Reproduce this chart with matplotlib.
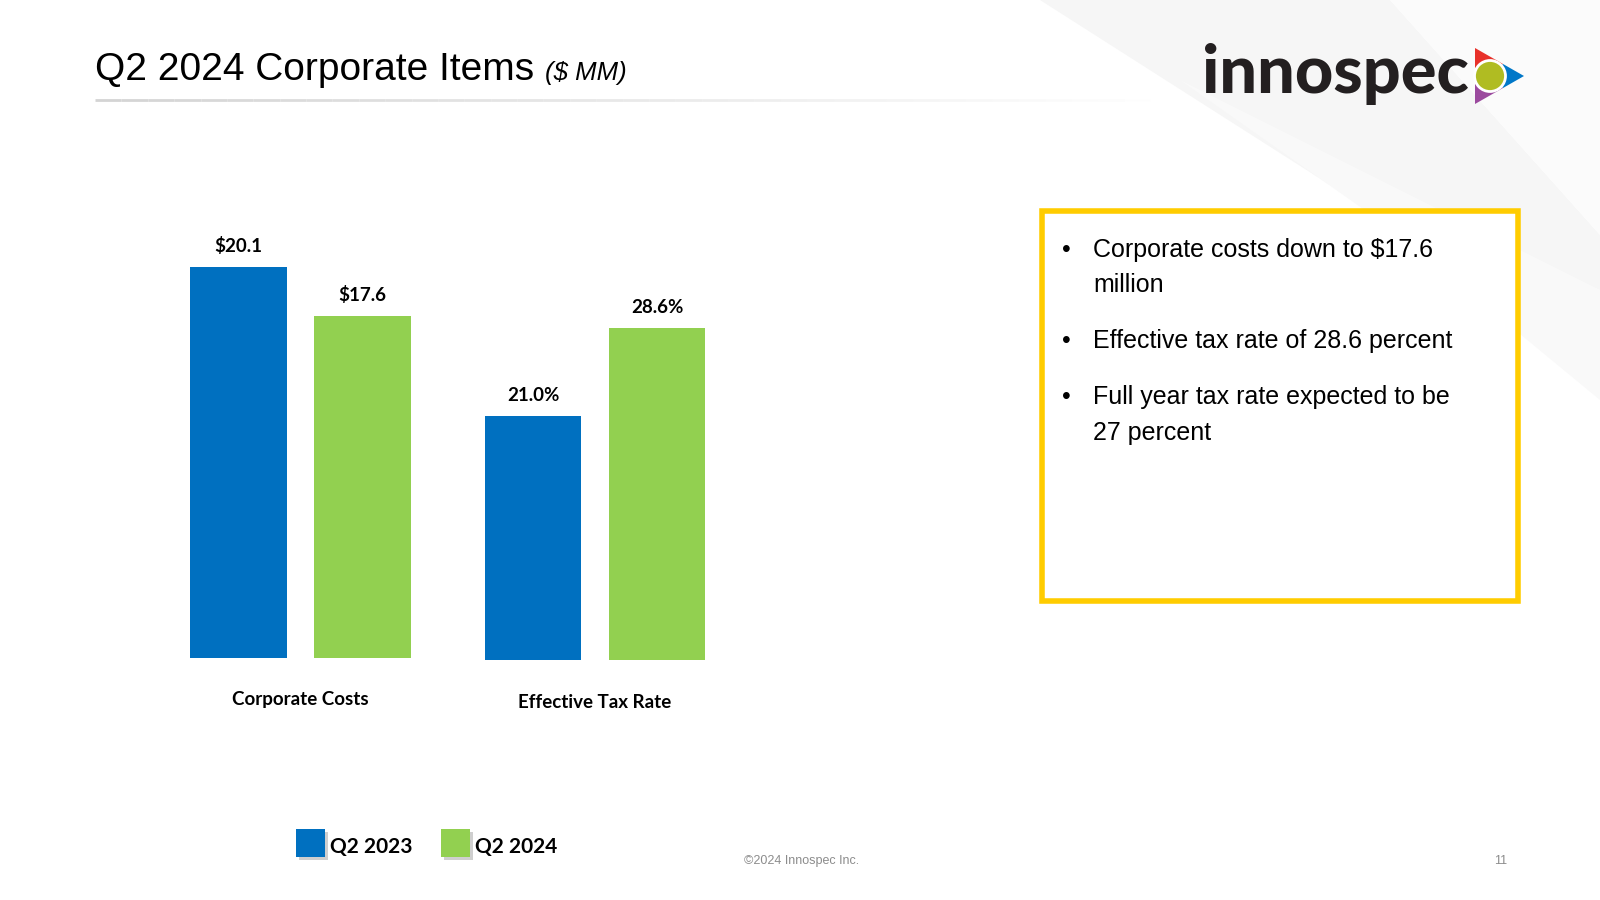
import matplotlib
matplotlib.use('Agg')
import matplotlib.pyplot as plt
from matplotlib.patches import Polygon, Circle, Rectangle

# Data
groups = ['Corporate Costs', 'Effective Tax Rate']
series = ['Q2 2023', 'Q2 2024']
corp_costs = [20.1, 17.6]
tax_rate = [21.0, 28.6]
corp_labels = ['$20.1', '$17.6']
tax_labels = ['21.0%', '28.6%']
bullets = [
    ['Corporate costs down to $17.6', 'million'],
    ['Effective tax rate of 28.6 percent'],
    ['Full year tax rate expected to be', '27 percent'],
]

blue = '#0070C0'
green = '#92D050'
colors = [blue, green]

narrow = ['Liberation Sans', 'DejaVu Sans']
label_font = ['Lato', 'DejaVu Sans']

W, H = 1600, 900
fig = plt.figure(figsize=(16, 9), dpi=100)
fig.patch.set_facecolor('white')


def fx(x):
    return x / W


def fy(y):
    return 1 - y / H


# faint grey shapes in the top right corner
bg = fig.add_axes([0, 0, 1, 1], zorder=-5)
bg.set_xlim(0, W)
bg.set_ylim(H, 0)
bg.axis('off')
bg.add_patch(Polygon([(1040, 0), (1390, 0), (1600, 235), (1600, 290), (1330, 185)],
                     closed=True, color='#f6f6f6', lw=0))
bg.add_patch(Polygon([(1180, 80), (1600, 290), (1600, 400), (1400, 235)],
                     closed=True, color='#f9f9f9', lw=0))
bg.add_patch(Polygon([(1390, 0), (1600, 0), (1600, 235)],
                     closed=True, color='#fbfbfb', lw=0))

# title underline fading to the right
n = 40
for i in range(n):
    x0 = 95 + i * (1150 - 95) / n
    x1 = 95 + (i + 1) * (1150 - 95) / n
    bg.plot([x0, x1], [100, 100], color='#d4d4d4', lw=2,
            alpha=max(0.0, 1 - i / n), solid_capstyle='butt')

# title
title = fig.text(fx(95), fy(80), 'Q2 2024 Corporate Items', fontsize=28, family=narrow,
                 va='baseline', ha='left', color='black')
fig.canvas.draw()
t_end = title.get_window_extent().x1
fig.text((t_end + 11) / W, fy(80), '($ MM)', fontsize=18.5, family=narrow, style='italic',
         va='baseline', ha='left', color='black')

# logo
logo = fig.text(fx(1202), fy(93), 'innospec', fontsize=46, family=label_font,
                weight='black', color='#231F20', va='baseline', ha='left')
fig.canvas.draw()
ext = logo.get_window_extent()
logo.set_fontsize(46 * 267 / ext.width)
T, B, R = (1475, 48), (1475, 104), (1524, 76)
C, L = (1490, 76), (1475, 76)
P1, P2 = (1503, 64), (1503, 88)
bg.add_patch(Polygon([T, P1, C, L], closed=True, color='#E8312A', lw=0))
bg.add_patch(Polygon([P1, R, P2, C], closed=True, color='#0077C8', lw=0))
bg.add_patch(Polygon([L, C, P2, B], closed=True, color='#9B4A9E', lw=0))
bg.add_patch(Circle(C, 15.5, facecolor='#B0BC22', edgecolor='white', lw=2))

# bar panels: one axes per group, each with its own scale
x = [0, 1]
bw = 0.782
panels = [
    (corp_costs, corp_labels, groups[0], 176.5, 658, 1.023),
    (tax_rate, tax_labels, groups[1], 471.0, 660, 1.205),
]
for vals, labs, name, left, bottom, head in panels:
    ax = fig.add_axes([fx(left), fy(bottom), 248 / W, 400 / H])
    ax.bar(x, vals, width=bw, color=colors, edgecolor='none')
    ax.set_xlim(-0.5, 1.5)
    ax.set_ylim(0, max(vals) * head)
    ax.axis('off')
    for xi, v, lab in zip(x, vals, labs):
        ax.annotate(lab, (xi, v), xytext=(0, 15), textcoords='offset points',
                    ha='center', va='center', fontsize=13.5, weight='bold',
                    family=label_font, color='black')
    ax.text(0.5, -0.105, name, transform=ax.transAxes, ha='center', va='center',
            fontsize=13.5, weight='bold', family=label_font, color='black')

# legend with shadowed swatches
for sx, tx, c, lab in [(296, 330, blue, series[0]), (441, 475, green, series[1])]:
    bg.add_patch(Rectangle((sx + 3, 832), 29, 28, color='#b0b0b0', lw=0, alpha=0.6))
    bg.add_patch(Rectangle((sx, 829), 29, 28, color=c, lw=0))
    fig.text(fx(tx), fy(853), lab, fontsize=15, weight='bold', family=label_font,
             va='baseline', ha='left', color='black')

# text box
bg.add_patch(Rectangle((1042, 211), 476, 390, facecolor='white', edgecolor='#FFCC00', lw=4))
baselines = [[257, 292], [348], [404, 440]]
for lines, ys in zip(bullets, baselines):
    fig.text(fx(1066), fy(ys[0]), '\u2022', fontsize=18, family=narrow,
             va='baseline', ha='center', color='black')
    for txt, by in zip(lines, ys):
        fig.text(fx(1093), fy(by), txt, fontsize=18, family=narrow, va='baseline',
                 ha='left', color='black')

# footer
fig.text(fx(744), fy(864), '\u00a92024 Innospec Inc.', fontsize=9, family=narrow,
         va='baseline', ha='left', color='#8c8c8c')
fig.text(fx(1501), fy(864), '11', fontsize=9, family=narrow,
         va='baseline', ha='center', color='#8c8c8c')

fig.savefig('out.png', dpi=100, facecolor='white')
